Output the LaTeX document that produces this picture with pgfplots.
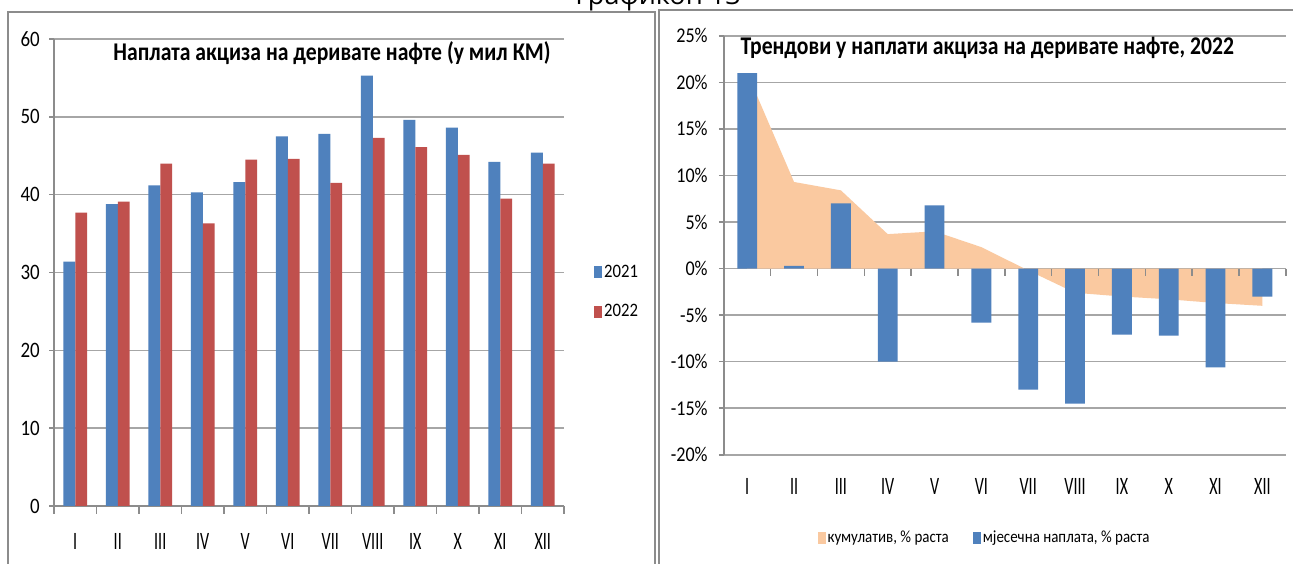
\documentclass[border=0pt]{standalone}
\usepackage{pgfplots}
\pgfplotsset{compat=1.18}
\usepackage{fontspec}
\setmainfont{Carlito}
\newfontfamily\tickf{Carlito}[FakeStretch=0.86]
\newfontfamily\romf{Carlito}[FakeStretch=0.64]
\newfontfamily\legf{Carlito}[FakeStretch=0.88]
\newfontfamily\ttlf{Carlito}[FakeStretch=0.85]
\newfontfamily\topf{Open Sans}
\definecolor{blu}{HTML}{4F81BD}
\definecolor{rd}{HTML}{C0504D}
\definecolor{peach}{HTML}{FAC9A0}
\definecolor{gridc}{HTML}{A6A6A6}
\definecolor{axc}{HTML}{8C8C8C}
\pgfplotsset{mylegend/.style={legend image code/.code={\fill[##1] (0pt,-6pt) rectangle (8pt,6pt);}}}
\begin{document}
\begin{tikzpicture}[x=1pt,y=1pt]
\useasboundingbox (0,0) rectangle (1293,564);
\fill[white] (0,0) rectangle (1293,564);
\draw[axc, line width=1.5pt] (8,-5) -- (8,552) -- (655,552) -- (655,-5);
\draw[axc, line width=1.5pt] (659,-5) -- (659,554) -- (1300,554);
\node[font=\topf\fontsize{27}{27}\selectfont, anchor=base] at (658,559) {Графикон 13};

% ---------------- left chart ----------------
\begin{axis}[
  at={(54pt,58pt)}, anchor=south west, scale only axis,
  width=510pt, height=467pt,
  xmin=-0.5, xmax=11.5, ymin=0, ymax=60, clip=false,
  axis x line*=bottom, axis y line*=left,
  x axis line style={-, axc, line width=1.6pt},
  y axis line style={-, axc, line width=1.6pt},
  ytick={0,10,20,30,40,50,60}, yticklabels={0,10,20,30,40,50,60},
  ymajorgrids, grid style={gridc, line width=1.6pt},
  xtick={0,...,11}, xticklabels={I,II,III,IV,V,VI,VII,VIII,IX,X,XI,XII},
  x tick style={draw=none},
  y tick style={axc, line width=1.5pt},
  tick align=outside, major tick length=5pt,
  yticklabel style={font=\tickf\fontsize{22}{22}\selectfont, inner sep=0pt, anchor=east, xshift=-9pt},
  xticklabel style={font=\romf\fontsize{25}{25}\selectfont, inner sep=0pt, anchor=center, yshift=-30.7pt},
  legend style={draw=none, fill=none, at={(1.0588,0.459)}, anchor=west,
    font=\legf\fontsize{19}{19}\selectfont, row sep=22pt, inner sep=0pt},
  legend cell align=left,
]
\addplot[ybar, bar width=11.8pt, bar shift=-5.9pt, fill=blu, draw=none, mylegend]
  coordinates {(0,31.4) (1,38.8) (2,41.2) (3,40.3) (4,41.6) (5,47.5) (6,47.8) (7,55.3) (8,49.6) (9,48.6) (10,44.2) (11,45.4)};
\addplot[ybar, bar width=11.8pt, bar shift=5.9pt, fill=rd, draw=none, mylegend]
  coordinates {(0,37.7) (1,39.1) (2,44.0) (3,36.3) (4,44.5) (5,44.6) (6,41.5) (7,47.3) (8,46.1) (9,45.1) (10,39.5) (11,44.0)};
\legend{2021,2022}
\pgfplotsinvokeforeach{-0.5,0.5,1.5,2.5,3.5,4.5,5.5,6.5,7.5,8.5,9.5,10.5,11.5}{
  \draw[axc, line width=1.5pt] (axis cs:#1,0) -- (axis cs:#1,-1.03);
}
\end{axis}
\node[font=\ttlf\bfseries\fontsize{25.5}{25.5}\selectfont, anchor=center] at (332,511) {Наплата акциза на деривате нафте (у мил КМ)};

% ---------------- right chart ----------------
\begin{axis}[
  at={(723.8pt,109.2pt)}, anchor=south west, scale only axis,
  width=562pt, height=419pt,
  xmin=-0.5, xmax=11.5, ymin=-20, ymax=25, clip=false,
  axis x line*=bottom, axis y line*=left,
  x axis line style={-, gridc, line width=1.6pt},
  y axis line style={-, axc, line width=1.6pt},
  ytick={-20,-15,-10,-5,0,5,10,15,20,25},
  yticklabels={-20\%,-15\%,-10\%,-5\%,0\%,5\%,10\%,15\%,20\%,25\%},
  ymajorgrids, grid style={gridc, line width=1.6pt},
  xtick={0,...,11}, xticklabels={I,II,III,IV,V,VI,VII,VIII,IX,X,XI,XII},
  x tick style={draw=none},
  y tick style={axc, line width=1.5pt},
  tick align=outside, major tick length=5pt,
  yticklabel style={font=\tickf\fontsize{21}{21}\selectfont, inner sep=0pt, anchor=east, xshift=-11pt},
  xticklabel style={font=\romf\fontsize{25}{25}\selectfont, inner sep=0pt, anchor=center, yshift=-26.9pt},
  legend style={draw=none, fill=none, at={(0.4639,-0.1979)}, anchor=center,
    font=\legf\fontsize{17}{17}\selectfont, inner sep=0pt,
    /tikz/every even column/.append style={column sep=22pt}},
  legend columns=2,
]
\addplot[fill=peach, draw=none, mylegend]
  coordinates {(0,21.0) (1,9.3) (2,8.4) (3,3.7) (4,4.0) (5,2.3) (6,-0.2) (7,-2.6) (8,-3.0) (9,-3.3) (10,-3.7) (11,-4.0)} \closedcycle;
\addplot[ybar, bar width=19.8pt, bar shift=0pt, fill=blu, draw=none, mylegend]
  coordinates {(0,21.0) (1,0.3) (2,7.0) (3,-10.0) (4,6.8) (5,-5.8) (6,-13.0) (7,-14.5) (8,-7.1) (9,-7.2) (10,-10.6) (11,-3.0)};
\legend{{кумулатив, \% раста},{мјесечна наплата, \% раста}}
\pgfplotsinvokeforeach{-0.5,0.5,1.5,2.5,3.5,4.5,5.5,6.5,7.5,8.5,9.5,10.5,11.5}{
  \draw[axc, line width=1.5pt] (axis cs:#1,0) -- (axis cs:#1,-0.75);
}
\end{axis}
\node[font=\ttlf\bfseries\fontsize{25.5}{25.5}\selectfont, anchor=west] at (737,516) {Трендови у наплати акциза на деривате нафте, 2022};
\end{tikzpicture}
\end{document}
